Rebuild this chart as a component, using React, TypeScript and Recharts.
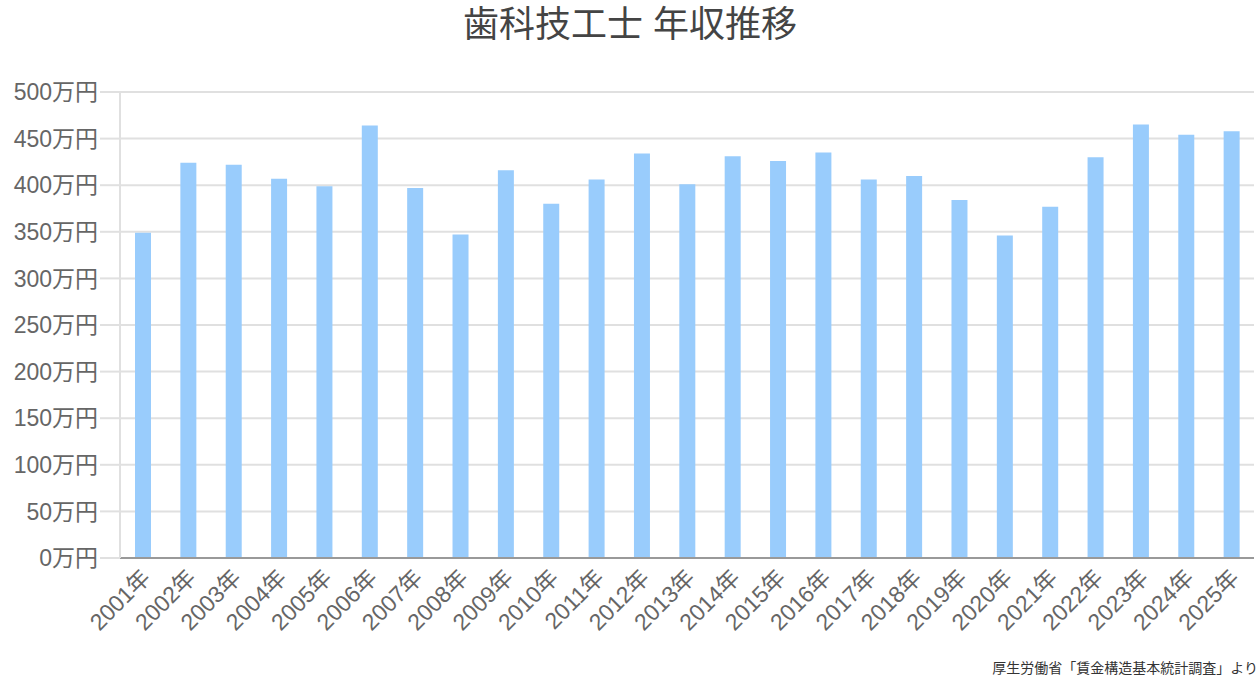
import React from "react"
import { Bar, BarChart, CartesianGrid, XAxis, YAxis } from "recharts"

// 年収（万円）- 厚生労働省「賃金構造基本統計調査」
const years = [
  "2001年", "2002年", "2003年", "2004年", "2005年", "2006年", "2007年", "2008年", "2009年",
  "2010年", "2011年", "2012年", "2013年", "2014年", "2015年", "2016年", "2017年", "2018年",
  "2019年", "2020年", "2021年", "2022年", "2023年", "2024年", "2025年",
]
const salary = [
  349, 424, 422, 407, 399, 464, 397, 347, 416,
  380, 406, 434, 401, 431, 426, 435, 406, 410,
  384, 346, 377, 430, 465, 454, 458,
]
const yTicks = [0, 50, 100, 150, 200, 250, 300, 350, 400, 450, 500]

const data = years.map((year, i) => ({ year, salary: salary[i] }))

const FONT = '"Liberation Sans", Arial, "Noto Sans CJK JP", sans-serif'

const YearTick = (props: any) => {
  const { x, y, payload } = props
  return (
    <g transform={`translate(${x - 3},${y + 1})`}>
      <text
        textAnchor="end"
        transform="rotate(-45)"
        dy="0.75em"
        fill="#666"
        fontSize={23}
        fontFamily={FONT}
      >
        {payload.value}
      </text>
    </g>
  )
}

export default function App() {
  return (
    <div style={{ position: "absolute", left: 0, top: 0, width: 1260, height: 682, background: "#fff", fontFamily: FONT }}>
      <div
        style={{
          position: "absolute",
          top: 1,
          left: 0,
          width: 1260,
          textAlign: "center",
          fontSize: 36,
          color: "#444",
          lineHeight: "48px",
        }}
      >
        歯科技工士 年収推移
      </div>
      <BarChart
        width={1260}
        height={682}
        data={data}
        margin={{ top: 92, right: 6, bottom: 0, left: 0 }}
      >
        <CartesianGrid vertical={false} stroke="#e0e0e0" strokeWidth={2} />
        <XAxis
          dataKey="year"
          height={124}
          interval={0}
          tickLine={false}
          axisLine={{ stroke: "#999", strokeWidth: 2 }}
          tick={<YearTick />}
        />
        <YAxis
          width={120}
          domain={[0, 500]}
          ticks={yTicks}
          interval={0}
          tickSize={20}
          tickMargin={2}
          tickLine={{ stroke: "#e0e0e0", strokeWidth: 2 }}
          axisLine={{ stroke: "#e0e0e0", strokeWidth: 2 }}
          tickFormatter={(v) => `${v}万円`}
          tick={{ fill: "#666", fontSize: 23, fontFamily: FONT }}
        />
        <Bar dataKey="salary" fill="#99ccfc" barSize={16} isAnimationActive={false} />
      </BarChart>
      <div
        style={{
          position: "absolute",
          right: 2,
          top: 658,
          fontSize: 14,
          color: "#333",
          lineHeight: "20px",
          whiteSpace: "nowrap",
        }}
      >
        厚生労働省「賃金構造基本統計調査」より
      </div>
    </div>
  )
}
